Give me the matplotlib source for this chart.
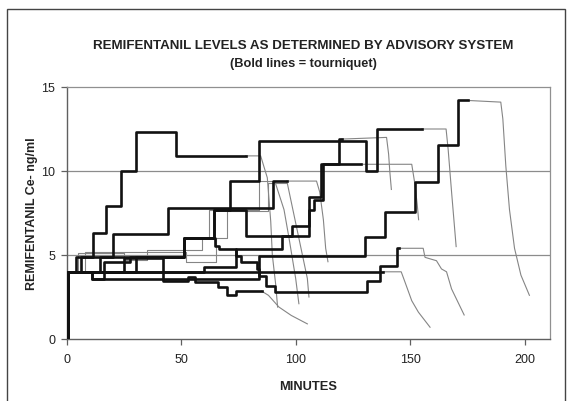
import matplotlib
matplotlib.use("Agg")
import matplotlib.pyplot as plt
from matplotlib.patches import Rectangle

plt.rcParams['font.family'] = ['Liberation Sans', 'DejaVu Sans']

# Each patient: bold step trace (tourniquet inflated, steps-post), then thin tail.
s1_t = [0, 0.6, 4, 11.4, 17.2, 23.8, 30.3, 47.5, 78]
s1_v = [0, 4.0, 4.9, 6.3, 7.9, 10.0, 12.3, 10.9, 10.9]
s1_tail_t = [78, 84.6, 87.5, 89, 89.7, 91.2, 92]
s1_tail_v = [10.9, 10.9, 9.6, 7.0, 5.0, 3.2, 1.9]

s2_t = [0, 0.6, 11, 84, 130, 139, 152, 162, 171, 175]
s2_v = [0, 4.0, 3.6, 4.95, 6.05, 7.55, 9.36, 11.55, 14.2, 14.2]
s2_tail_t = [175, 189.5, 190.4, 191.7, 193.3, 195.5, 198.3, 202]
s2_tail_v = [14.2, 14.1, 13.1, 10.3, 7.7, 5.4, 3.8, 2.6]

s3_t = [0, 0.6, 11, 16, 27.5, 51, 64.5, 66.5, 74, 76, 83, 84, 87, 91, 131, 136.8, 144, 145]
s3_v = [0, 4.0, 3.6, 4.6, 4.9, 6.0, 5.55, 5.36, 4.96, 4.56, 4.17, 3.77, 3.17, 2.8, 3.47, 4.37, 5.4, 5.4]
s3_tail_t = [145, 155.6, 156.4, 161.4, 163.6, 165.8, 168, 173.5]
s3_tail_v = [5.4, 5.4, 4.86, 4.66, 4.17, 4.0, 2.98, 1.43]

s4_t = [0, 0.6, 138]
s4_v = [0, 4.0, 4.0]
s4_tail_t = [138, 146, 147.7, 150.6, 153.5, 158.6]
s4_tail_v = [4.0, 4.0, 3.37, 2.28, 1.6, 0.7]

s5_t = [0, 0.6, 14.3, 51, 64.3, 71, 84, 130.5, 135.5, 155]
s5_v = [0, 4.0, 4.9, 6.0, 7.7, 9.4, 11.8, 10.0, 12.5, 12.5]
s5_tail_t = [155, 165.6, 166.5, 168, 170]
s5_tail_v = [12.5, 12.5, 11.3, 8.75, 5.5]

s6_t = [0, 0.6, 6, 20, 44, 90, 96]
s6_v = [0, 4.0, 4.9, 6.25, 7.8, 9.4, 9.4]
s6_tail_t = [96, 109, 110.4, 112, 113, 114]
s6_tail_v = [9.4, 9.4, 8.75, 7.1, 5.4, 4.6]

s7_t = [0, 0.6, 30, 51, 64.3, 78, 105.7, 111, 118.7, 120]
s7_v = [0, 4.0, 4.9, 6.0, 7.7, 6.15, 8.45, 10.4, 11.9, 11.9]
s7_tail_t = [120, 139.6, 140.5, 141, 141.7]
s7_tail_v = [11.9, 12.0, 11.0, 10.0, 8.9]

s8_t = [0, 0.6, 60, 74, 94, 98.3, 105.7, 108, 112, 128.6]
s8_v = [0, 4.0, 4.3, 5.36, 6.15, 6.75, 7.7, 8.3, 10.4, 10.4]
s8_tail_t = [128.6, 150.6, 152, 153, 153.6]
s8_tail_v = [10.4, 10.4, 9.2, 8.0, 7.1]

s9_t = [0, 0.6, 25, 42, 53, 56, 66, 70, 74, 85]
s9_v = [0, 4.0, 4.8, 3.45, 3.7, 3.4, 3.1, 2.6, 2.85, 2.85]
s9_tail_t = [85, 88, 92.6, 98, 105]
s9_tail_v = [2.85, 2.6, 1.9, 1.4, 0.9]

# Patients without tourniquet: thin throughout
s10_t = [0, 0.6, 5, 25, 35, 59, 62, 84, 91]
s10_v = [0, 4.0, 5.1, 4.7, 5.3, 6.0, 7.7, 9.4, 9.4]
s10_tail_t = [91, 94.8, 97, 99.9, 101.3]
s10_tail_v = [9.3, 7.7, 6.0, 3.6, 2.1]

s11_t = [0, 0.6, 8, 52, 65, 70, 88, 96]
s11_v = [0, 4.0, 5.2, 4.6, 6.0, 7.6, 9.3, 9.3]
s11_tail_t = [96, 96.2, 101.3, 105, 105.7]
s11_tail_v = [9.3, 9.3, 6.0, 3.6, 2.5]

bold_series = [
    (s1_t, s1_v, s1_tail_t, s1_tail_v),
    (s2_t, s2_v, s2_tail_t, s2_tail_v),
    (s3_t, s3_v, s3_tail_t, s3_tail_v),
    (s4_t, s4_v, s4_tail_t, s4_tail_v),
    (s5_t, s5_v, s5_tail_t, s5_tail_v),
    (s6_t, s6_v, s6_tail_t, s6_tail_v),
    (s7_t, s7_v, s7_tail_t, s7_tail_v),
    (s8_t, s8_v, s8_tail_t, s8_tail_v),
    (s9_t, s9_v, s9_tail_t, s9_tail_v),
]
thin_series = [
    (s10_t, s10_v, s10_tail_t, s10_tail_v),
    (s11_t, s11_v, s11_tail_t, s11_tail_v),
]

x_ticks = [0, 50, 100, 150, 200]
y_ticks = [0, 5, 10, 15]

W, H = 575, 402
fig = plt.figure(figsize=(W / 100, H / 100), dpi=100)
ax = fig.add_axes([67 / W, 1 - 340 / H, (550 - 67) / W, (340 - 88) / H])

thin_kw = dict(color="#858585", lw=0.8, solid_joinstyle="round", zorder=2)
bold_kw = dict(color="#111111", lw=1.9, solid_joinstyle="round", zorder=3)

for t, v, tt, tv in thin_series:
    ax.plot(t, v, drawstyle="steps-post", **thin_kw)
    ax.plot(tt, tv, **thin_kw)
for t, v, tt, tv in bold_series:
    ax.plot(tt, tv, **thin_kw)
    ax.plot(t, v, drawstyle="steps-post", **bold_kw)

ax.set_xlim(0, 211)
ax.set_ylim(0, 15)
ax.set_xticks(x_ticks)
ax.set_yticks(y_ticks)
for yv in (5, 10):
    ax.axhline(yv, color="#8c8c8c", lw=0.9, zorder=1)

for side in ("top", "right"):
    ax.spines[side].set_color("#909090")
    ax.spines[side].set_linewidth(0.9)
for side in ("left", "bottom"):
    ax.spines[side].set_color("#606060")
    ax.spines[side].set_linewidth(1.0)
ax.tick_params(direction="out", length=4, width=0.9, color="#606060",
               labelsize=9, labelcolor="#222222")
ax.tick_params(axis="x", pad=6)
ax.tick_params(axis="y", pad=4.5)

text_kw = dict(fontweight="bold", color="#222222", ha="center", va="center")
fig.text(308 / W, 1 - 387 / H, "MINUTES", fontsize=9.3, **text_kw)
fig.text(32 / W, 1 - 214 / H, "REMIFENTANIL Ce- ng/ml", fontsize=9.0,
         rotation=90, **text_kw)
fig.text(303 / W, 1 - 46 / H, "REMIFENTANIL LEVELS AS DETERMINED BY ADVISORY SYSTEM",
         fontsize=9.6, **text_kw)
fig.text(303 / W, 1 - 64 / H, "(Bold lines = tourniquet)", fontsize=9.2, **text_kw)

fig.patches.append(Rectangle((7 / W, -0.05), (565 - 7) / W, 1 - 10 / H + 0.05,
                             transform=fig.transFigure, fill=False,
                             edgecolor="#444444", lw=1.0))

fig.savefig("out.png", dpi=100, facecolor="white")
